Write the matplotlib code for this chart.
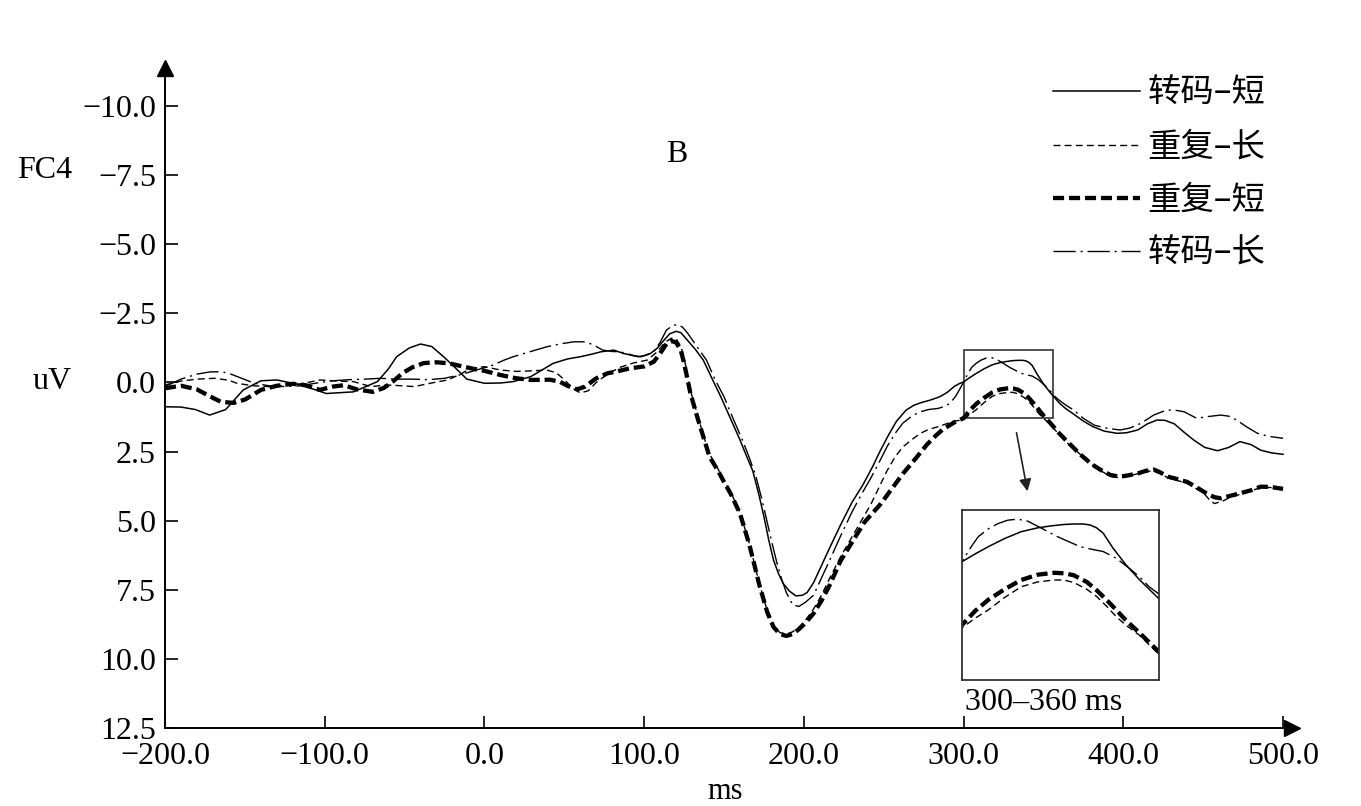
import matplotlib
matplotlib.use("Agg")
import matplotlib.pyplot as plt
from matplotlib.patches import Rectangle
from matplotlib.ticker import FuncFormatter

plt.rcParams['font.family'] = ['Liberation Serif', 'DejaVu Serif']
plt.rcParams['lines.scale_dashes'] = False

# 转码-短 (thin solid)
t_zm_short = [-200, -190, -181, -172, -162, -151, -140, -130, -115, -99, -82, -67, -60, -55, -47, -40, -33, -25,
              -19, -11, 0, 10, 18, 29, 36, 43, 52, 60, 67, 73, 81, 87, 93, 98, 104, 108, 112, 116, 120, 123, 126,
              132, 137, 142, 148, 154, 160, 164, 168, 172, 175, 178, 181, 184, 187, 191, 195, 199, 202, 206, 210,
              216, 223, 230, 237, 243, 248, 253, 258, 264, 269, 274, 279, 285, 290, 294, 297, 300, 304, 308, 313,
              318, 323, 327, 331, 334, 337, 339, 341, 343, 346, 350, 354, 357, 360, 364, 369, 375, 381, 388, 396,
              402, 409, 415, 421, 426, 432, 438, 444, 451, 459, 466, 473, 480, 486, 493, 500]
v_zm_short = [0.88, 0.89, 0.98, 1.18, 0.98, 0.27, -0.06, -0.09, 0.09, 0.40, 0.34, -0.03, -0.5, -0.93, -1.25, -1.39,
              -1.3, -0.9, -0.57, -0.12, 0.03, 0.02, -0.03, -0.21, -0.45, -0.69, -0.85, -0.93, -1.02, -1.11, -1.17,
              -1.05, -0.97, -0.93, -1.05, -1.23, -1.5, -1.76, -1.85, -1.8, -1.6, -1.2, -0.81, -0.2, 0.52, 1.3, 2.08,
              2.65, 3.2, 4.1, 4.86, 5.7, 6.43, 6.9, 7.27, 7.55, 7.72, 7.7, 7.6, 7.25, 6.75, 6.0, 5.15, 4.35, 3.7,
              3.05, 2.45, 1.9, 1.4, 1.0, 0.82, 0.72, 0.64, 0.52, 0.35, 0.15, 0.05, -0.02, -0.18, -0.33, -0.5, -0.64,
              -0.72, -0.76, -0.79, -0.80, -0.80, -0.78, -0.72, -0.61, -0.3, 0.05, 0.35, 0.55, 0.75, 0.95, 1.15, 1.4,
              1.6, 1.76, 1.84, 1.82, 1.72, 1.5, 1.36, 1.37, 1.5, 1.8, 2.08, 2.35, 2.47, 2.35, 2.14, 2.25, 2.45, 2.55,
              2.6]

# 重复-长 (thin dashed)
t_cf_long = [-200, -190, -180, -169, -160, -155, -145, -135, -125, -115, -103, -92, -82, -71, -61, -52, -44, -34,
             -23, -15, -9, 0, 10, 20, 30, 39, 45, 50, 55, 60, 65, 70, 77, 85, 93, 102, 108, 113, 117, 120, 123, 125,
             129, 133, 137, 141, 146, 150, 154, 160, 166, 172, 177, 181, 185, 189, 193, 197, 201, 206, 211, 216,
             223, 231, 237, 242, 247, 252, 257, 262, 268, 273, 278, 284, 289, 294, 300, 304, 308, 313, 318, 323,
             328, 331, 334, 338, 341, 344, 347, 350, 354, 360, 366, 373, 380, 386, 392, 398, 404, 409, 414, 419,
             423, 428, 434, 440, 446, 450, 454, 457, 462, 467, 473, 480, 486, 492, 500]
v_cf_long = [0.09, -0.05, -0.12, -0.15, -0.08, 0.03, 0.12, 0.15, 0.1, 0.05, -0.09, -0.05, -0.03, 0.15, 0.09, 0.12,
             0.15, 0.03, -0.09, -0.3, -0.5, -0.57, -0.45, -0.4, -0.42, -0.45, -0.35, -0.1, 0.2, 0.38, 0.3, 0.0,
             -0.3, -0.55, -0.7, -0.81, -1.1, -1.45, -1.6, -1.58, -1.3, -0.9, 0.3, 1.1, 1.9, 2.6, 3.1, 3.55, 3.95,
             4.7, 5.85, 7.25, 8.25, 8.8, 9.05, 9.1, 9.02, 8.85, 8.6, 8.2, 7.7, 7.1, 6.3, 5.5, 4.9, 4.4, 3.8, 3.2,
             2.7, 2.33, 2.05, 1.84, 1.7, 1.6, 1.5, 1.4, 1.35, 1.15, 0.98, 0.72, 0.5, 0.4, 0.36, 0.36, 0.41, 0.55,
             0.7, 0.9, 1.12, 1.3, 1.5, 1.9, 2.25, 2.6, 2.95, 3.2, 3.4, 3.45, 3.38, 3.3, 3.22, 3.2, 3.3, 3.45, 3.55,
             3.65, 3.85, 3.98, 4.25, 4.38, 4.3, 4.15, 4.05, 3.92, 3.8, 3.8, 3.85]

# 重复-短 (thick dashed)
t_cf_short = [-200, -190, -180, -172, -165, -157, -150, -145, -140, -130, -120, -112, -103, -95, -88, -80, -70, -63,
              -57, -51, -45, -38, -30, -22, -13, -5, 0, 10, 20, 29, 41, 47, 52, 58, 63, 70, 77, 83, 91, 100, 106,
              110, 114, 117, 120, 123, 125, 129, 133, 137, 141, 146, 150, 154, 160, 166, 172, 177, 181, 185, 189,
              193, 197, 201, 206, 211, 216, 223, 231, 238, 248, 255, 262, 270, 277, 283, 287, 294, 300, 304, 308,
              313, 318, 323, 328, 331, 334, 338, 341, 344, 347, 350, 354, 360, 366, 373, 380, 386, 392, 398, 404,
              409, 414, 419, 423, 428, 434, 440, 446, 452, 457, 461, 467, 473, 480, 486, 492, 500]
v_cf_short = [0.21, 0.12, 0.25, 0.5, 0.70, 0.74, 0.62, 0.45, 0.27, 0.12, 0.05, 0.1, 0.27, 0.15, 0.1, 0.25, 0.34, 0.2,
              -0.05, -0.35, -0.55, -0.7, -0.73, -0.69, -0.57, -0.47, -0.42, -0.27, -0.15, -0.09, -0.1, -0.03, 0.12,
              0.25, 0.15, -0.15, -0.33, -0.4, -0.51, -0.58, -0.75, -1.05, -1.4, -1.5, -1.45, -1.15, -0.7, 0.4, 1.2,
              1.96, 2.7, 3.17, 3.6, 4.01, 4.74, 5.9, 7.3, 8.3, 8.85, 9.1, 9.17, 9.1, 8.92, 8.7, 8.36, 7.9, 7.35,
              6.45, 5.7, 5.05, 4.4, 3.85, 3.3, 2.75, 2.25, 1.9, 1.7, 1.45, 1.29, 1.0, 0.77, 0.55, 0.36, 0.25, 0.21,
              0.22, 0.26, 0.4, 0.57, 0.77, 0.98, 1.2, 1.45, 1.85, 2.2, 2.6, 2.95, 3.17, 3.35, 3.41, 3.35, 3.29, 3.2,
              3.15, 3.25, 3.41, 3.5, 3.6, 3.8, 4.01, 4.15, 4.19, 4.1, 4.01, 3.9, 3.77, 3.78, 3.85]

# 转码-长 (dash-dot)
t_zm_long = [-200, -190, -180, -172, -165, -160, -152, -144, -135, -125, -115, -105, -95, -85, -75, -65, -55, -45,
             -35, -25, -15, -5, 5, 12, 18, 29, 39, 48, 56, 62, 66, 70, 74, 80, 85, 90, 96, 101, 106, 110, 114, 118,
             121, 124, 127, 133, 139, 144, 150, 156, 162, 166, 170, 174, 177, 180, 183, 186, 189, 193, 197, 201,
             206, 210, 216, 223, 230, 236, 242, 247, 252, 257, 262, 268, 273, 278, 284, 289, 292, 295, 298, 300,
             303, 305, 308, 311, 314, 317, 320, 324, 329, 333, 336, 340, 343, 347, 351, 354, 357, 360, 364, 369,
             375, 382, 390, 398, 404, 411, 419, 427, 432, 438, 446, 452, 461, 466, 471, 477, 484, 491, 500]
v_zm_long = [0.15, -0.12, -0.3, -0.38, -0.39, -0.33, -0.15, 0.03, 0.12, 0.15, 0.12, 0.02, -0.06, -0.1, -0.12, -0.15,
             -0.12, -0.12, -0.1, -0.15, -0.28, -0.45, -0.62, -0.8, -0.93, -1.12, -1.29, -1.40, -1.47, -1.47, -1.41,
             -1.3, -1.17, -1.12, -1.11, -1.03, -0.93, -0.98, -1.11, -1.45, -1.9, -2.06, -2.1, -2.0, -1.8, -1.3,
             -0.81, -0.15, 0.52, 1.35, 2.15, 2.75, 3.4, 4.3, 5.05, 5.8, 6.5, 7.1, 7.6, 8.05, 8.1, 7.95, 7.7, 7.2,
             6.45, 5.55, 4.7, 4.05, 3.45, 2.9, 2.33, 1.85, 1.47, 1.2, 1.06, 0.98, 0.94, 0.85, 0.72, 0.5, 0.2, -0.02,
             -0.35, -0.54, -0.7, -0.81, -0.88, -0.9, -0.86, -0.72, -0.54, -0.42, -0.33, -0.27, -0.23, -0.09, 0.12,
             0.29, 0.5, 0.65, 0.82, 1.0, 1.3, 1.55, 1.66, 1.72, 1.65, 1.48, 1.18, 1.0, 1.0, 1.06, 1.3, 1.24, 1.18,
             1.22, 1.36, 1.6, 1.84, 1.95, 2.02]

labels = ['转码–短', '重复–长', '重复–短', '转码–长']
series = [(t_zm_short, v_zm_short), (t_cf_long, v_cf_long), (t_cf_short, v_cf_short), (t_zm_long, v_zm_long)]
styles = [dict(color='black', lw=1.1, ls='-'),
          dict(color='black', lw=1.0, ls=(0, (5, 3))),
          dict(color='black', lw=3.1, ls=(0, (8, 3.5))),
          dict(color='black', lw=1.0, ls=(0, (16, 3.5, 1.5, 3.5)))]

x_ticks = [-200, -100, 0, 100, 200, 300, 400, 500]
y_ticks = [-10.0, -7.5, -5.0, -2.5, 0.0, 2.5, 5.0, 7.5, 10.0, 12.5]
zoom_t = (300, 356)
zoom_v = (-1.17, 1.30)

W, H = 1361, 806
FS = 23
fig = plt.figure(figsize=(W / 100, H / 100), dpi=100)
ax = fig.add_axes([165 / W, 1 - 728 / H, 1127 / W, 660 / H])

handles = []
for (t, v), lab, st in zip(series, labels, styles):
    h, = ax.plot(t, v, label=lab, **st)
    handles.append(h)

ax.set_xlim(-200, 505.6)
ax.set_ylim(12.5, -11.375)
ax.set_xticks(x_ticks)
ax.set_yticks(y_ticks)
fmt = FuncFormatter(lambda x, p: ('%.1f' % x).replace('-', '\u2212'))
ax.xaxis.set_major_formatter(fmt)
ax.yaxis.set_major_formatter(fmt)
ax.tick_params(direction='in', length=9, width=1.2, labelsize=FS)
ax.tick_params(axis='x', pad=10)
ax.tick_params(axis='y', pad=6.5)
for lab in ax.get_yticklabels():
    lab.set_verticalalignment('center_baseline')
for s in ['top', 'right']:
    ax.spines[s].set_visible(False)
for s in ['left', 'bottom']:
    ax.spines[s].set_linewidth(1.4)

# axis arrows
ax.plot(0, 1, marker='^', color='black', ms=11, transform=ax.transAxes, clip_on=False)
ax.plot(1, 0, marker='>', color='black', ms=11, transform=ax.transAxes, clip_on=False)

# zoom window
ax.add_patch(Rectangle((zoom_t[0], zoom_v[0]), zoom_t[1] - zoom_t[0], zoom_v[1] - zoom_v[0],
                       fill=False, ec='#333333', lw=1.2))
ax.annotate('', xy=(1028 / W, 1 - 494 / H), xytext=(1016 / W, 1 - 430 / H),
            xycoords='figure fraction', textcoords='figure fraction',
            arrowprops=dict(arrowstyle='-|>', color='#222222', lw=1.2, mutation_scale=18))

# inset
axi = fig.add_axes([962 / W, 1 - 680 / H, 197 / W, 170 / H])
for (t, v), st in zip(series, styles):
    axi.plot(t, v, **st)
axi.set_xlim(300, 360)
axi.set_ylim(2.43, -1.09)
axi.set_xticks([])
axi.set_yticks([])
for s in axi.spines.values():
    s.set_linewidth(1.3)
    s.set_color('#333333')
fig.text(965 / W, 1 - 703 / H, '300–360 ms', fontsize=FS, va='center', ha='left')

# labels
fig.text(45 / W, 1 - 170 / H, 'FC4', fontsize=FS, ha='center', va='center')
fig.text(52 / W, 1 - 382 / H, 'uV', fontsize=FS, ha='center', va='center')
fig.text(677 / W, 1 - 155 / H, 'B', fontsize=FS, ha='center', va='center')
fig.text(725 / W, 1 - 799 / H, 'ms', fontsize=22, ha='center', va='baseline')

ax.legend(handles=handles, loc='upper left', bbox_to_anchor=(1053 / W, 1 - 76 / H),
          bbox_transform=fig.transFigure, frameon=False, borderpad=0, borderaxespad=0,
          handlelength=2.6, handletextpad=0.24, labelspacing=0.55,
          prop={'family': ['Noto Sans CJK SC', 'DejaVu Sans'], 'size': 24})

fig.savefig('out.png', dpi=100)
